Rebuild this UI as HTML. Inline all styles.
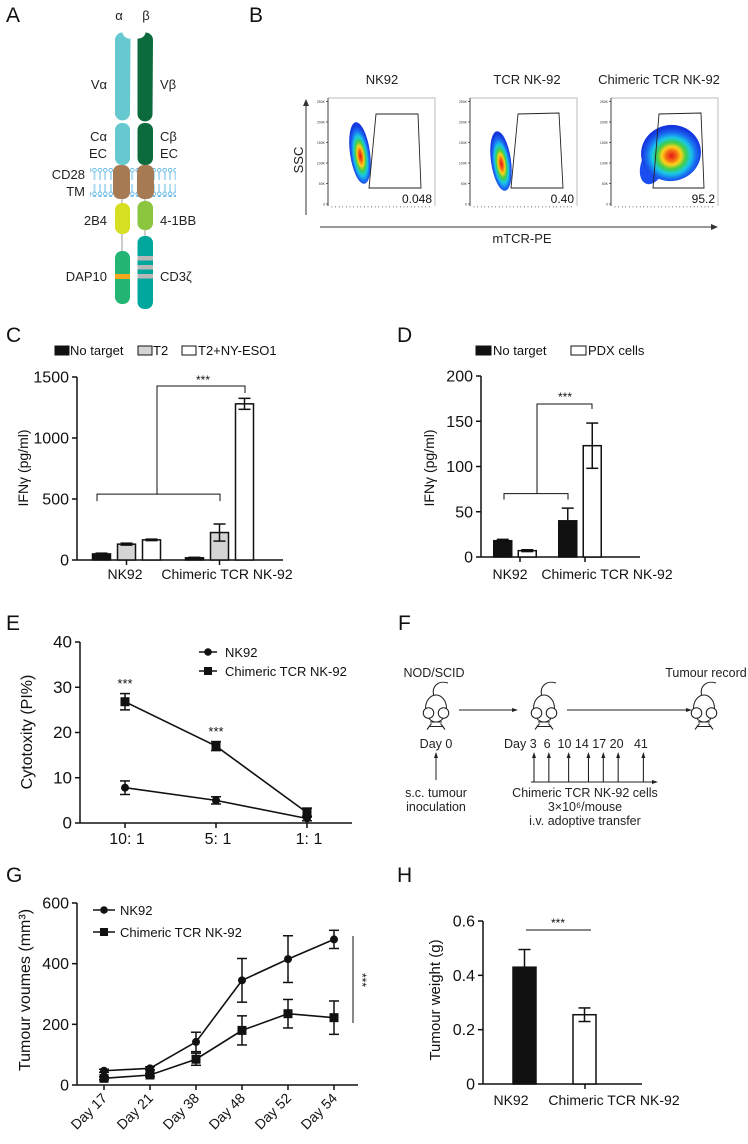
<!DOCTYPE html>
<html><head><meta charset="utf-8">
<style>
html,body{margin:0;padding:0;background:#fff;}
svg{display:block;font-family:"Liberation Sans",Arial,sans-serif;}
</style></head>
<body>
<svg id="fig" width="748" height="1144" viewBox="0 0 748 1144" xmlns="http://www.w3.org/2000/svg">
<defs>
<radialGradient id="heat" cx="50%" cy="55%" r="50%">
<stop offset="0" stop-color="#e8141b"/><stop offset="0.18" stop-color="#f36b12"/><stop offset="0.32" stop-color="#ffd21a"/><stop offset="0.48" stop-color="#3fce4a"/><stop offset="0.65" stop-color="#18c8e8"/><stop offset="0.82" stop-color="#1a6df0"/><stop offset="1" stop-color="#1438e0"/>
</radialGradient>
<pattern id="lipid" width="5.4" height="28" patternUnits="userSpaceOnUse">
<circle cx="2.7" cy="2.2" r="1.8" fill="none" stroke="#5fb6e6" stroke-width="0.9"/>
<line x1="2.2" y1="4" x2="2.2" y2="12" stroke="#5fb6e6" stroke-width="0.5"/><line x1="3.2" y1="4" x2="3.2" y2="12" stroke="#5fb6e6" stroke-width="0.5"/>
<line x1="2.2" y1="16" x2="2.2" y2="24" stroke="#5fb6e6" stroke-width="0.5"/><line x1="3.2" y1="16" x2="3.2" y2="24" stroke="#5fb6e6" stroke-width="0.5"/>
<circle cx="2.7" cy="25.8" r="1.8" fill="none" stroke="#5fb6e6" stroke-width="0.9"/>
</pattern>
</defs>

<g font-size="21" fill="#111">
<text x="6" y="22">A</text>
<text x="249" y="22">B</text>
<text x="6" y="342">C</text>
<text x="397" y="342">D</text>
<text x="6" y="630">E</text>
<text x="398" y="630">F</text>
<text x="6" y="882">G</text>
<text x="397" y="882">H</text>
</g>

<g id="panelA">
<rect x="90" y="168" width="86" height="29" fill="url(#lipid)"/>
<path d="M115,40 a7.5,7.5 0 0 1 7.5,-7.5 a7,7 0 0 0 8,6 L130,113 a7.5,7.5 0 0 1 -15,0 Z" fill="#66c9d0"/>
<path d="M153,40 a7.5,7.5 0 0 0 -7.5,-7.5 a7,7 0 0 1 -8,6 L137.5,114 a7.5,7.5 0 0 0 15,0 Z" fill="#0c6b3c"/>
<rect x="115" y="123" width="15" height="42" rx="7" fill="#66c9d0"/>
<rect x="137.5" y="123" width="15.5" height="42" rx="7" fill="#0c6b3c"/>
<rect x="113" y="165" width="17" height="34" rx="7" fill="#a67a52"/>
<rect x="137" y="165" width="17" height="34" rx="7" fill="#a67a52"/>
<line x1="122" y1="199" x2="122" y2="252" stroke="#999"/>
<line x1="145" y1="199" x2="145" y2="237" stroke="#999"/>
<rect x="115" y="203" width="15" height="31" rx="7" fill="#d7df22"/>
<rect x="137.5" y="201" width="15.5" height="29" rx="7" fill="#8cc63f"/>
<rect x="115" y="251" width="15" height="53" rx="7" fill="#22b573"/>
<rect x="115" y="274" width="15" height="5" fill="#f7a81b"/>
<rect x="137.5" y="236" width="15.5" height="73" rx="7" fill="#00a79c"/>
<rect x="137.5" y="256" width="15.5" height="4.5" fill="#b8b8b8"/>
<rect x="137.5" y="265" width="15.5" height="4.5" fill="#b8b8b8"/>
<rect x="137.5" y="274" width="15.5" height="4.5" fill="#b8b8b8"/>
<g font-size="13" fill="#222">
<text x="119" y="20" text-anchor="middle">α</text>
<text x="146" y="20" text-anchor="middle">β</text>
<text x="107" y="89" text-anchor="end">Vα</text>
<text x="160" y="89">Vβ</text>
<text x="107" y="141" text-anchor="end">Cα</text>
<text x="107" y="158" text-anchor="end">EC</text>
<text x="160" y="141">Cβ</text>
<text x="160" y="158">EC</text>
<text x="85" y="179" text-anchor="end">CD28</text>
<text x="85" y="196" text-anchor="end">TM</text>
<text x="107" y="225" text-anchor="end">2B4</text>
<text x="160" y="225">4-1BB</text>
<text x="107" y="281" text-anchor="end">DAP10</text>
<text x="160" y="281">CD3ζ</text>
</g>
</g>

<g id="panelB">
<g font-size="13" fill="#222" text-anchor="middle">
<text x="382" y="84">NK92</text>
<text x="527" y="84">TCR NK-92</text>
<text x="659" y="84">Chimeric TCR NK-92</text>
</g>
<line x1="306" y1="215" x2="306" y2="104" stroke="#333"/>
<polygon points="306,99 303,106 309,106" fill="#333"/>
<text x="0" y="0" font-size="13" transform="translate(303,160) rotate(-90)" text-anchor="middle" fill="#222">SSC</text>
<line x1="320" y1="227" x2="712" y2="227" stroke="#333"/>
<polygon points="718,227 711,224 711,230" fill="#333"/>
<text x="522" y="243" font-size="13" text-anchor="middle" fill="#222">mTCR-PE</text>
<g id="flowPlots"></g>
</g>

<g id="panelF" font-size="12.5" fill="#222">
<text x="434" y="677" text-anchor="middle">NOD/SCID</text>
<text x="706" y="677" text-anchor="middle">Tumour record</text>
<g id="mice"></g>
<line x1="459" y1="710" x2="514" y2="710" stroke="#222"/>
<polygon points="518,710 512,708 512,712" fill="#222"/>
<line x1="567" y1="710" x2="688" y2="710" stroke="#222"/>
<polygon points="692,710 686,708 686,712" fill="#222"/>
<text x="436" y="748" text-anchor="middle">Day 0</text>
<text x="504" y="748" xml:space="preserve">Day 3  6  10 14 17 20   41</text>
<line x1="436" y1="780" x2="436" y2="756" stroke="#222"/>
<polygon points="436,752 434,758 438,758" fill="#222"/>
<text x="436" y="797" text-anchor="middle">s.c. tumour</text>
<text x="436" y="811" text-anchor="middle">inoculation</text>
<line x1="531" y1="782" x2="654" y2="782" stroke="#222"/>
<polygon points="658,782 652,780 652,784" fill="#222"/>
<g id="injArrows"></g>
<text x="585" y="797" text-anchor="middle">Chimeric TCR NK-92 cells</text>
<text x="585" y="811" text-anchor="middle">3×10⁶/mouse</text>
<text x="585" y="825" text-anchor="middle">i.v. adoptive transfer</text>
</g>

<g id="charts"></g>
</svg>

<script>
// ---------- DATA ----------
const cGroups = ["NK92", "Chimeric TCR NK-92"];
const cSeries = ["No target", "T2", "T2+NY-ESO1"];
const cNoTarget = [50, 18];
const cNoTargetErr = [6, 4];
const cT2 = [130, 225];
const cT2Err = [8, 70];
const cT2Eso = [165, 1280];
const cT2EsoErr = [6, 45];
const cTicks = [0, 500, 1000, 1500];
const dGroups = ["NK92", "Chimeric TCR NK-92"];
const dNoTarget = [18, 40];
const dNoTargetErr = [1.5, 14];
const dPdx = [7, 123];
const dPdxErr = [1, 25];
const dTicks = [0, 50, 100, 150, 200];
const eCats = ["10: 1", "5: 1", "1: 1"];
const eNK92 = [7.8, 5.0, 1.0];
const eNK92Err = [1.5, 0.8, 0.5];
const eChim = [26.8, 17.0, 2.3];
const eChimErr = [1.8, 1.0, 1.0];
const eTicks = [0, 10, 20, 30, 40];
const gCats = ["Day 17", "Day 21", "Day 38", "Day 48", "Day 52", "Day 54"];
const gNK92 = [47, 55, 142, 345, 415, 480];
const gNK92Err = [5, 5, 32, 72, 77, 30];
const gChim = [22, 33, 85, 180, 235, 222];
const gChimErr = [5, 5, 20, 48, 47, 55];
const gTicks = [0, 200, 400, 600];
const hCats = ["NK92", "Chimeric TCR NK-92"];
const hVals = [0.43, 0.255];
const hErr = [0.065, 0.025];
const hTicks = [0, 0.2, 0.4, 0.6];
const flowSamples = ["NK92", "TCR NK-92", "Chimeric TCR NK-92"];
const flowGate = ["0.048", "0.40", "95.2"];
const injDays = [3, 6, 10, 14, 17, 20, 41];

// ---------- helpers ----------
const NS = "http://www.w3.org/2000/svg";
const root = document.getElementById("charts");
function mk(tag, attrs, parent) {
  const e = document.createElementNS(NS, tag);
  for (const k in attrs) e.setAttribute(k, attrs[k]);
  (parent || root).appendChild(e);
  return e;
}
function txt(s, attrs, parent) { const t = mk("text", attrs, parent); t.textContent = s; return t; }
function lin(x1, y1, x2, y2, parent, w) { return mk("line", {x1, y1, x2, y2, stroke: "#111", "stroke-width": w || 1.4}, parent); }
function yScale(y0, yTop, max) { return v => y0 - (v / max) * (y0 - yTop); }

function yAxis(g, x, y0, yTop, ticks, max, fmt, fs) {
  const s = yScale(y0, yTop, max);
  const ax = lin(x, y0, x, yTop, g, 1.5);
  
  
  ticks.forEach(t => {
    lin(x - 5, s(t), x, s(t), g, 1.5);
    const lb = txt(fmt ? fmt(t) : String(t), {x: x - 8, y: s(t) + 5.5, "font-size": fs || 16, "text-anchor": "end", fill: "#111"}, g);
    
    
  });
  return s;
}
function errBar(g, x, yv, ye, s, cap, upOnly) {
  const top = s(yv + ye), bot = upOnly ? s(yv) : s(Math.max(0, yv - ye));
  lin(x, top, x, bot, g, 1.5);
  lin(x - cap, top, x + cap, top, g, 1.5);
  if (!upOnly) lin(x - cap, bot, x + cap, bot, g, 1.5);
}

// ---------- Panel C ----------
(function () {
  const g = mk("g", {});
  
  
  const x0 = 77, y0 = 560, yTop = 377, max = 1500;
  const s = yAxis(g, x0, y0, yTop, cTicks, max);
  lin(x0, y0, 283, y0, g, 1.5);
  const yt = txt("IFNγ (pg/ml)", {transform: "translate(28,468) rotate(-90)", "font-size": 14, "text-anchor": "middle", fill: "#111"}, g);
  
  
  const fills = ["#111", "#d4d4d4", "#fff"];
  const vals = [cNoTarget, cT2, cT2Eso], errs = [cNoTargetErr, cT2Err, cT2EsoErr];
  const gc = [126.5, 219.5], step = 25, bw = 18;
  cGroups.forEach((grp, gi) => {
    lin(gc[gi], y0, gc[gi], y0 + 5, g, 1.5);
    cSeries.forEach((ser, si) => {
      const cx = gc[gi] + (si - 1) * step;
      const v = vals[si][gi];
      const r = mk("rect", {x: cx - bw / 2, y: s(v), width: bw, height: y0 - s(v), fill: fills[si], stroke: "#111", "stroke-width": 1.5}, g);
      
      
      errBar(g, cx, v, errs[si][gi], s, 6);
    });
  });
  txt("NK92", {x: 125, y: 579, "font-size": 14, "text-anchor": "middle", fill: "#111"}, g);
  txt("Chimeric TCR NK-92", {x: 227, y: 579, "font-size": 14, "text-anchor": "middle", fill: "#111"}, g);
  const sy = s(540);
  mk("path", {d: `M97,${sy + 7} V${sy} H220 V${sy + 7} M157,${sy} V386 H245 V393`, fill: "none", stroke: "#111", "stroke-width": 1}, g);
  txt("***", {x: 203, y: 384, "font-size": 12, "text-anchor": "middle", fill: "#111"}, g);
  const lx = [55, 138, 182], tx = [70, 153, 198];
  cSeries.forEach((ser, si) => {
    const sw = mk("rect", {x: lx[si], y: 346, width: 14, height: 9, fill: fills[si], stroke: "#111", "stroke-width": 1}, g);
    
    const lt = txt(ser, {x: tx[si], y: 355, "font-size": 13, fill: "#111"}, g);
    
  });
})();

// ---------- Panel D ----------
(function () {
  const g = mk("g", {});
  
  
  const x0 = 481, y0 = 557, yTop = 376, max = 200;
  const s = yAxis(g, x0, y0, yTop, dTicks, max);
  lin(x0, y0, 640, y0, g, 1.5);
  txt("IFNγ (pg/ml)", {transform: "translate(434,468) rotate(-90)", "font-size": 14, "text-anchor": "middle", fill: "#111"}, g);
  const fills = ["#111", "#fff"], vals = [dNoTarget, dPdx], errs = [dNoTargetErr, dPdxErr];
  const gc = [515, 580], step = 24.5, bw = 18;
  dGroups.forEach((grp, gi) => {
    lin(gc[gi] + 5, y0, gc[gi] + 5, y0 + 5, g, 1.5);
    [0, 1].forEach(si => {
      const cx = gc[gi] + (si - 0.5) * step, v = vals[si][gi];
      const r = mk("rect", {x: cx - bw / 2, y: s(v), width: bw, height: y0 - s(v), fill: fills[si], stroke: "#111", "stroke-width": 1.5}, g);
      
      
      errBar(g, cx, v, errs[si][gi], s, 6, si === 0 && gi === 1);
    });
  });
  txt("NK92", {x: 510, y: 579, "font-size": 14, "text-anchor": "middle", fill: "#111"}, g);
  txt("Chimeric TCR NK-92", {x: 607, y: 579, "font-size": 14, "text-anchor": "middle", fill: "#111"}, g);
  const sy = s(70);
  mk("path", {d: `M504,${sy + 6} V${sy} H568 V${sy + 6} M537,${sy} V404 H592 V409`, fill: "none", stroke: "#111", "stroke-width": 1}, g);
  txt("***", {x: 565, y: 401, "font-size": 12, "text-anchor": "middle", fill: "#111"}, g);
  mk("rect", {x: 476, y: 346, width: 15, height: 9, fill: "#111", stroke: "#111"}, g);
  txt("No target", {x: 493, y: 355, "font-size": 13, fill: "#111"}, g);
  mk("rect", {x: 571, y: 346, width: 15, height: 9, fill: "#fff", stroke: "#111"}, g);
  txt("PDX cells", {x: 588, y: 355, "font-size": 13, fill: "#111"}, g);
})();

function lineSeries(g, xs, vals, errs, s, marker, name) {
  const pts = vals.map((v, i) => xs(i) + "," + s(v)).join(" ");
  const pl = mk("polyline", {points: pts, fill: "none", stroke: "#111", "stroke-width": 1.6}, g);
  
  
  vals.forEach((v, i) => {
    errBar(g, xs(i), v, errs[i], s, 5);
    let m;
    if (marker === "circle") m = mk("circle", {cx: xs(i), cy: s(v), r: 4, fill: "#111"}, g);
    else m = mk("rect", {x: xs(i) - 4.5, y: s(v) - 4.5, width: 9, height: 9, fill: "#111"}, g);
    
    
  });
}

// ---------- Panel E ----------
(function () {
  const g = mk("g", {});
  
  
  const x0 = 80, y0 = 823, yTop = 642, max = 40;
  const s = yAxis(g, x0, y0, yTop, eTicks, max, null, 17);
  lin(x0, y0, 352, y0, g, 1.5);
  const xs = i => 125 + i * 91;
  eCats.forEach((c, i) => {
    lin(xs(i), y0, xs(i), y0 + 5, g, 1.5);
    txt(c, {x: xs(i) + 2, y: 844, "font-size": 16, "text-anchor": "middle", fill: "#111"}, g);
  });
  txt("Cytotoxity (PI%)", {transform: "translate(32,732) rotate(-90)", "font-size": 16, "text-anchor": "middle", fill: "#111"}, g);
  lineSeries(g, xs, eNK92, eNK92Err, s, "circle", "nk92");
  lineSeries(g, xs, eChim, eChimErr, s, "square", "chimeric");
  txt("***", {x: 125, y: 688, "font-size": 13, "text-anchor": "middle", fill: "#111"}, g);
  txt("***", {x: 216, y: 736, "font-size": 13, "text-anchor": "middle", fill: "#111"}, g);
  lin(199, 652, 217, 652, g, 1.6); mk("circle", {cx: 208, cy: 652, r: 3.8, fill: "#111"}, g);
  txt("NK92", {x: 225, y: 657, "font-size": 13, fill: "#111"}, g);
  lin(199, 671, 217, 671, g, 1.6); mk("rect", {x: 204, y: 667, width: 8, height: 8, fill: "#111"}, g);
  txt("Chimeric TCR NK-92", {x: 225, y: 676, "font-size": 13, fill: "#111"}, g);
})();

// ---------- Panel G ----------
(function () {
  const g = mk("g", {});
  
  
  const x0 = 77, y0 = 1085, yTop = 903, max = 600;
  const s = yAxis(g, x0, y0, yTop, gTicks, max);
  lin(x0, y0, 358, y0, g, 1.5);
  const xs = i => 104 + i * 46;
  gCats.forEach((c, i) => {
    lin(xs(i), y0, xs(i), y0 + 5, g, 1.5);
    const t = txt(c, {transform: `translate(${xs(i) + 4},${y0 + 14}) rotate(-45)`, "font-size": 14, "text-anchor": "end", fill: "#111"}, g);
    
  });
  txt("Tumour voumes (mm³)", {transform: "translate(30,990) rotate(-90)", "font-size": 16, "text-anchor": "middle", fill: "#111"}, g);
  lineSeries(g, xs, gNK92, gNK92Err, s, "circle", "nk92");
  lineSeries(g, xs, gChim, gChimErr, s, "square", "chimeric");
  lin(353, 936, 353, 1023, g, 1);
  txt("***", {transform: "translate(358,980) rotate(90)", "font-size": 12, "text-anchor": "middle", fill: "#111"}, g);
  lin(93, 910, 115, 910, g, 1.6); mk("circle", {cx: 104, cy: 910, r: 3.8, fill: "#111"}, g);
  txt("NK92", {x: 120, y: 915, "font-size": 13, fill: "#111"}, g);
  lin(93, 932, 115, 932, g, 1.6); mk("rect", {x: 100, y: 928, width: 8, height: 8, fill: "#111"}, g);
  txt("Chimeric TCR NK-92", {x: 120, y: 937, "font-size": 13, fill: "#111"}, g);
})();

// ---------- Panel H ----------
(function () {
  const g = mk("g", {});
  
  
  const x0 = 483, y0 = 1084, yTop = 921, max = 0.6;
  const s = yAxis(g, x0, y0, yTop, hTicks, max, t => t === 0 ? "0" : t.toFixed(1));
  lin(x0, y0, 642, y0, g, 1.5);
  txt("Tumour weight (g)", {transform: "translate(440,1000) rotate(-90)", "font-size": 15, "text-anchor": "middle", fill: "#111"}, g);
  const xs = i => 524.5 + i * 60, fills = ["#111", "#fff"], bw = 23;
  hCats.forEach((c, i) => {
    const r = mk("rect", {x: xs(i) - bw / 2, y: s(hVals[i]), width: bw, height: y0 - s(hVals[i]), fill: fills[i], stroke: "#111", "stroke-width": 1.5}, g);
    
    
    errBar(g, xs(i), hVals[i], hErr[i], s, 6, i === 0);
  });
  lin(585, y0, 585, y0 + 5, g, 1.5);
  txt("NK92", {x: 511, y: 1105, "font-size": 14, "text-anchor": "middle", fill: "#111"}, g);
  txt("Chimeric TCR NK-92", {x: 614, y: 1105, "font-size": 14, "text-anchor": "middle", fill: "#111"}, g);
  lin(526, 930, 591, 930, g, 1);
  txt("***", {x: 558, y: 927, "font-size": 12, "text-anchor": "middle", fill: "#111"}, g);
})();

// ---------- Panel B flow plots ----------
(function () {
  const fp = document.getElementById("flowPlots");
  const lefts = [328, 470, 611];
  const gates = [[[376,114],[418,114],[421,188],[369,188]], [[518,114],[559,113],[563,188],[511,188]], [[659,114],[701,113],[704,188],[653,188]]];
  const blobs = [[360,153,10,31,-8], [501,161,10,30,-8], [671,153,30,28,-10]];
  flowSamples.forEach((smp, i) => {
    const g = mk("g", {}, fp);
    
    
    const L = lefts[i];
    mk("path", {d: `M${L},98 H${L + 107} V206`, fill: "none", stroke: "#bbb", "stroke-width": 1}, g);
    lin(L, 98, L, 206, g, 0.8);
    ["0","50K","100K","150K","200K","250K"].forEach((t, k) => {
      const y = 204 - k * 20.5;
      lin(L - 2, y, L, y, g, 0.6);
      txt(t, {x: L - 3, y: y + 1.5, "font-size": 3.5, "text-anchor": "end", fill: "#333"}, g);
    });
    for (let k = 0; k < 28; k++) lin(L + 4 + k * 3.6, 206, L + 4 + k * 3.6, 207.5, g, 0.4);
    const b = blobs[i];
    if (i === 2) {
      mk("ellipse", {cx: b[0] - 18, cy: b[1] + 12, rx: 12, ry: 20, fill: "#1a4ef0", transform: `rotate(20 ${b[0]-18} ${b[1]+12})`}, g);
    }
    const e = mk("ellipse", {cx: b[0], cy: b[1], rx: b[2], ry: b[3], fill: "url(#heat)", transform: `rotate(${b[4]} ${b[0]} ${b[1]})`}, g);
    
    
    const gp = mk("polygon", {points: gates[i].map(p => p.join(",")).join(" "), fill: "none", stroke: "#222", "stroke-width": 0.9}, g);
    
    
    const gt = txt(flowGate[i], {x: L + 104, y: 203, "font-size": 12, "text-anchor": "end", fill: "#111"}, g);
    
    
  });
})();

// ---------- Panel F mice & arrows ----------
(function () {
  const mg = document.getElementById("mice");
  [436, 544, 704].forEach((cx, i) => {
    const g = mk("g", {transform: `translate(${cx},710) scale(1.5)`, fill: "#fff", stroke: "#222", "stroke-width": 0.7}, mg);
    
    
    mk("path", {d: "M-1,-8 C-4,-16 2,-20 8,-18", fill: "none"}, g);
    mk("ellipse", {cx: 0, cy: -1, rx: 7, ry: 9}, g);
    mk("circle", {cx: -5, cy: 2, r: 3.5}, g);
    mk("circle", {cx: 5, cy: 2, r: 3.5}, g);
    mk("path", {d: "M-4,8 L4,8 M-5,11 L5,11 M-3,9 L-6,13 M3,9 L6,13", fill: "none"}, g);
  });
  const ag = document.getElementById("injArrows");
  const dx = d => 534 + (d <= 20 ? (d - 3) * 4.95 : (20 - 3) * 4.95 + (d - 20) * 1.2);
  injDays.forEach(d => {
    const x = dx(d);
    const l = lin(x, 782, x, 756, ag, 1);
    
    
    mk("polygon", {points: `${x},752 ${x - 2},758 ${x + 2},758`, fill: "#222"}, ag);
  });
})();
</script>
</body></html>
